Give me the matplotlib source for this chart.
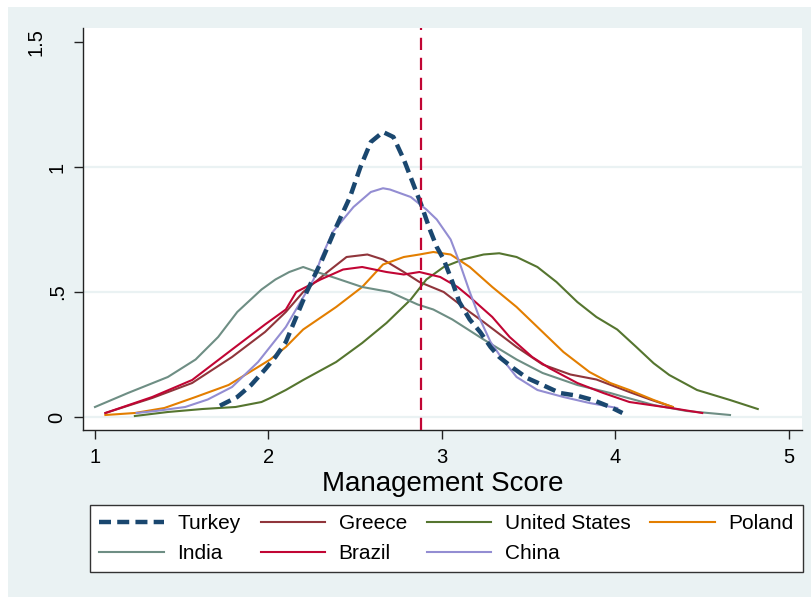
import matplotlib
matplotlib.use("Agg")
import matplotlib.pyplot as plt
from matplotlib.patches import Rectangle

plt.rcParams['font.family'] = ['Liberation Sans', 'DejaVu Sans']

# kernel density curves of management score by country
turkey_x = [1.72, 1.82, 1.90, 1.98, 2.04, 2.10, 2.16, 2.22, 2.31, 2.39, 2.47, 2.53, 2.59, 2.66,
            2.72, 2.78, 2.83, 2.88, 2.93, 2.97, 3.01, 3.06, 3.10, 3.16, 3.22, 3.28, 3.33, 3.41,
            3.49, 3.58, 3.68, 3.78, 3.87, 3.97, 4.04]
turkey_y = [0.045, 0.08, 0.128, 0.19, 0.24, 0.30, 0.40, 0.50, 0.63, 0.76, 0.88, 1.00, 1.10, 1.14,
            1.12, 1.03, 0.94, 0.85, 0.75, 0.68, 0.63, 0.54, 0.46, 0.39, 0.34, 0.28, 0.24, 0.196,
            0.156, 0.128, 0.096, 0.085, 0.068, 0.04, 0.016]

greece_x = [1.06, 1.33, 1.56, 1.79, 1.98, 2.10, 2.20, 2.34, 2.45, 2.57, 2.66, 2.78, 2.87, 3.01,
            3.16, 3.24, 3.43, 3.58, 3.74, 3.89, 4.08, 4.20, 4.33]
greece_y = [0.016, 0.076, 0.136, 0.24, 0.34, 0.42, 0.50, 0.58, 0.64, 0.65, 0.63, 0.58, 0.54, 0.50,
            0.42, 0.38, 0.28, 0.21, 0.17, 0.15, 0.10, 0.07, 0.04]

us_x = [1.23, 1.42, 1.62, 1.81, 1.96, 2.01, 2.10, 2.20, 2.39, 2.54, 2.68, 2.82, 2.91, 3.01, 3.12,
        3.24, 3.33, 3.43, 3.55, 3.66, 3.78, 3.89, 4.01, 4.12, 4.22, 4.31, 4.47, 4.66, 4.82]
us_y = [0.004, 0.02, 0.032, 0.04, 0.06, 0.076, 0.108, 0.148, 0.22, 0.296, 0.376, 0.47, 0.55, 0.60,
        0.63, 0.65, 0.655, 0.64, 0.60, 0.54, 0.46, 0.40, 0.35, 0.28, 0.215, 0.168, 0.108, 0.068, 0.032]

poland_x = [1.06, 1.23, 1.40, 1.58, 1.77, 1.94, 2.01, 2.10, 2.20, 2.39, 2.54, 2.66, 2.78, 2.87,
            2.95, 3.05, 3.16, 3.29, 3.43, 3.58, 3.70, 3.85, 3.97, 4.08, 4.22, 4.33]
poland_y = [0.008, 0.016, 0.036, 0.08, 0.128, 0.20, 0.23, 0.28, 0.35, 0.44, 0.52, 0.61, 0.64, 0.65,
            0.66, 0.65, 0.60, 0.52, 0.44, 0.34, 0.26, 0.18, 0.136, 0.108, 0.068, 0.04]

india_x = [1.00, 1.19, 1.42, 1.58, 1.71, 1.82, 1.96, 2.04, 2.12, 2.20, 2.28, 2.39, 2.54, 2.70,
           2.86, 2.95, 3.06, 3.24, 3.43, 3.58, 3.78, 3.97, 4.03, 4.22, 4.41, 4.66]
india_y = [0.04, 0.096, 0.16, 0.23, 0.32, 0.42, 0.51, 0.55, 0.58, 0.60, 0.58, 0.555, 0.52, 0.50,
           0.45, 0.43, 0.39, 0.31, 0.23, 0.176, 0.128, 0.096, 0.084, 0.048, 0.024, 0.008]

brazil_x = [1.06, 1.33, 1.56, 1.79, 1.98, 2.10, 2.16, 2.30, 2.43, 2.54, 2.68, 2.78, 2.87, 2.99,
            3.09, 3.16, 3.29, 3.39, 3.52, 3.62, 3.78, 3.93, 4.08, 4.33, 4.50]
brazil_y = [0.016, 0.08, 0.148, 0.27, 0.37, 0.43, 0.50, 0.55, 0.59, 0.60, 0.58, 0.57, 0.58, 0.56,
            0.52, 0.48, 0.40, 0.32, 0.24, 0.195, 0.136, 0.096, 0.06, 0.035, 0.016]

china_x = [1.24, 1.35, 1.52, 1.65, 1.79, 1.94, 2.10, 2.26, 2.30, 2.37, 2.49, 2.59, 2.66, 2.70,
           2.82, 2.91, 2.97, 3.05, 3.10, 3.16, 3.22, 3.28, 3.35, 3.43, 3.55, 3.70, 3.85, 4.01]
china_y = [0.016, 0.024, 0.04, 0.07, 0.12, 0.22, 0.36, 0.55, 0.63, 0.74, 0.84, 0.90, 0.915, 0.91,
           0.88, 0.83, 0.79, 0.71, 0.62, 0.50, 0.39, 0.30, 0.23, 0.16, 0.108, 0.08, 0.056, 0.036]

turkey_mean = 2.877

x_ticks = [1, 2, 3, 4, 5]
y_ticks = [0, 0.5, 1, 1.5]
y_tick_labels = ['0', '.5', '1', '1.5']

navy = '#1A476F'
maroon = '#90353B'
forest = '#55752F'
dkorange = '#E37E00'
teal = '#6E8E84'
cranberry = '#C10534'
lavender = '#938DD2'
bg = '#EAF2F3'

fig = plt.figure(figsize=(8.12, 5.97), dpi=100, facecolor='white')
fig.patches.append(Rectangle((8 / 812, 0), 1, 1 - 7 / 597, transform=fig.transFigure,
                             facecolor=bg, edgecolor='none', zorder=-10))

ax = fig.add_axes([83 / 812, 1 - 430 / 597, (802 - 83) / 812, (430 - 28) / 597])
ax.set_facecolor('white')

h_tr, = ax.plot(turkey_x, turkey_y, color=navy, lw=3.2, dashes=(2.7, 1.4), label='Turkey', zorder=5)
h_gr, = ax.plot(greece_x, greece_y, color=maroon, lw=1.5, label='Greece', zorder=3)
h_us, = ax.plot(us_x, us_y, color=forest, lw=1.5, label='United States', zorder=3)
h_pl, = ax.plot(poland_x, poland_y, color=dkorange, lw=1.5, label='Poland', zorder=3)
h_in, = ax.plot(india_x, india_y, color=teal, lw=1.5, label='India', zorder=3)
h_br, = ax.plot(brazil_x, brazil_y, color=cranberry, lw=1.5, label='Brazil', zorder=3)
h_cn, = ax.plot(china_x, china_y, color=lavender, lw=1.5, label='China', zorder=3)

ax.axvline(turkey_mean, color=cranberry, lw=1.6, dashes=(5.5, 3.5), zorder=6)

ax.set_xlim(0.931, 5.075)
ax.set_ylim(-0.052, 1.556)

for yv in y_ticks[:3]:
    ax.axhline(yv, color=bg, lw=1.6, zorder=1)

for s in ['top', 'right']:
    ax.spines[s].set_visible(False)
for s in ['left', 'bottom']:
    ax.spines[s].set_color('#222222')
    ax.spines[s].set_linewidth(1.0)

ax.set_xticks(x_ticks)
ax.set_xticklabels([str(v) for v in x_ticks])
ax.set_yticks(y_ticks)
ax.set_yticklabels(y_tick_labels[:3] + [''])
ax.tick_params(axis='both', length=6.2, width=1.0, color='#222222', labelsize=14.5, pad=6.5)
ax.tick_params(axis='y', pad=5.5)
for lab in ax.get_yticklabels():
    lab.set_rotation(90)
    lab.set_va('center')

# top label sits further left than the rest
ax.text(-47 / 719, 1.5, y_tick_labels[3], transform=ax.get_yaxis_transform(),
        rotation=90, ha='center', va='center', fontsize=14.5)

ax.set_xlabel('Management Score', fontsize=20, labelpad=3)

handles = [h_tr, h_in, h_gr, h_br, h_us, h_cn, h_pl]
leg = fig.legend(handles=handles, labels=[h.get_label() for h in handles], ncol=4,
                 loc='upper left', bbox_to_anchor=(90 / 812, 1 - 505 / 597),
                 fontsize=15, frameon=True, fancybox=False, framealpha=1,
                 handlelength=3.1, handletextpad=0.65, columnspacing=0.95,
                 labelspacing=0.5, borderpad=0.45, borderaxespad=0)
leg.get_frame().set_edgecolor('#333333')
leg.get_frame().set_linewidth(1.0)

fig.savefig('out.png', dpi=100, facecolor=fig.get_facecolor())
